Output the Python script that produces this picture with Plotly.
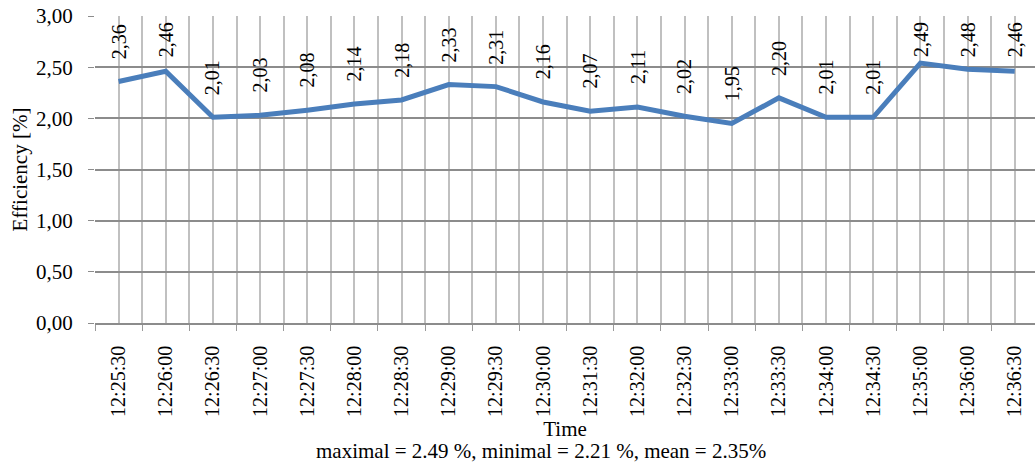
import plotly.graph_objects as go

times = ["12:25:30", "12:26:00", "12:26:30", "12:27:00", "12:27:30", "12:28:00",
         "12:28:30", "12:29:00", "12:29:30", "12:30:00", "12:31:30", "12:32:00",
         "12:32:30", "12:33:00", "12:33:30", "12:34:00", "12:34:30", "12:35:00",
         "12:36:00", "12:36:30"]
efficiency = [2.36, 2.46, 2.01, 2.03, 2.08, 2.14, 2.18, 2.33, 2.31, 2.16, 2.07, 2.11,
              2.02, 1.95, 2.20, 2.01, 2.01, 2.54, 2.48, 2.46]
label_text = ["2,36", "2,46", "2,01", "2,03", "2,08", "2,14", "2,18", "2,33", "2,31", "2,16",
              "2,07", "2,11", "2,02", "1,95", "2,20", "2,01", "2,01", "2,49", "2,48", "2,46"]
footer = "maximal = 2.49 %, minimal = 2.21 %, mean = 2.35%"

FONT = "Liberation Serif"
FS = 21
FS_ROT = 20
idx = list(range(len(times)))

fig = go.Figure()
fig.add_trace(go.Scatter(x=idx, y=efficiency, mode="lines",
                         line=dict(color="#4a7ebb", width=5), hoverinfo="skip"))

for i, (v, t) in enumerate(zip(efficiency, label_text)):
    fig.add_annotation(x=i, y=min(v + 0.58, 2.96), yanchor="top", xanchor="center",
                       text=t, textangle=-90, showarrow=False,
                       font=dict(family=FONT, size=FS_ROT, color="black"))

fig.add_annotation(x=0.5, y=0, xref="paper", yref="paper", yshift=-128, xshift=-24,
                   xanchor="center", yanchor="middle", text=footer, showarrow=False,
                   font=dict(family=FONT, size=FS, color="black"))

fig.update_layout(
    width=1035, height=463,
    margin=dict(l=95, r=0, t=16, b=140),
    paper_bgcolor="white", plot_bgcolor="white",
    separators=",.",
    showlegend=False,
    font=dict(family=FONT, size=FS, color="black"),
    xaxis=dict(
        range=[-0.5, 19.43],
        tickmode="array", tickvals=idx, ticktext=times, tickangle=-90,
        tickfont=dict(family=FONT, size=FS_ROT),
        ticks="", ticklabelstandoff=13,
        showgrid=True, gridcolor="#c0c0c0", gridwidth=1.5,
        minor=dict(tick0=0.5, dtick=1, ticks="outside", ticklen=6, tickcolor="#9a9a9a",
                   showgrid=True, gridcolor="#c0c0c0", gridwidth=1.5),
        showline=True, linecolor="#8c8c8c", linewidth=1.5,
        zeroline=False, automargin=False,
        title=dict(text="Time", standoff=3, font=dict(family=FONT, size=FS)),
    ),
    yaxis=dict(
        range=[0, 3], dtick=0.5, tickformat=".2f",
        ticks="outside", ticklen=6, tickcolor="#8c8c8c", ticklabelstandoff=11,
        showgrid=True, gridcolor="#8c8c8c", gridwidth=1.5,
        zeroline=False, showline=False, automargin=False,
        title=dict(text="Efficiency [%]", standoff=2, font=dict(family=FONT, size=FS)),
    ),
)

fig.write_html("out.html", config={"displayModeBar": False},
               post_script="document.body.style.margin='0';document.body.style.overflow='hidden';")
